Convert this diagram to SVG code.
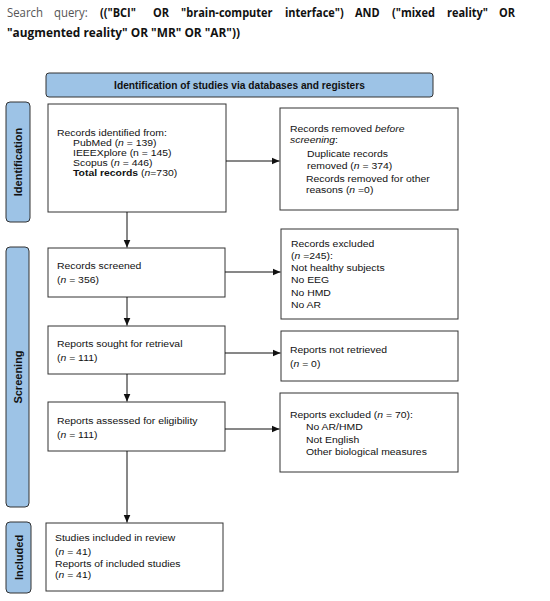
<svg xmlns="http://www.w3.org/2000/svg" width="550" height="601" viewBox="0 0 550 601">
<defs>
<style>
.box{fill:#fff;stroke:#333;stroke-width:1}
.side{fill:#9dc3e6;stroke:#333;stroke-width:1}
.t{font-family:"Liberation Sans",Arial,sans-serif;font-size:9.3px;fill:#111}
.hb{font-family:"Liberation Sans",Arial,sans-serif;font-size:10.2px;font-weight:bold;fill:#111}
.sl{font-family:"Liberation Sans",Arial,sans-serif;font-size:11px;font-weight:bold;fill:#111}
.q{font-family:"Open Sans","Noto Sans",sans-serif;font-size:11px;font-weight:bold;fill:#111}
.qn{font-family:"Open Sans","Noto Sans",sans-serif;font-size:11.4px;fill:#555}
.conn line{stroke:#111;stroke-width:1}
</style>
<marker id="ah" viewBox="0 0 8 8" refX="8" refY="4" markerWidth="8" markerHeight="8" markerUnits="userSpaceOnUse" orient="auto">
<path d="M0,0.5 L8,4 L0,7.5 z" fill="#111"/>
</marker>
</defs>
<rect width="550" height="601" fill="#fff"/>

<g id="query">
<g transform="matrix(1,0,0,1.15,0,-2.55)">
<text class="qn" y="17"><tspan x="7">Search</tspan><tspan x="54">query:</tspan></text>
<text class="q" y="17"><tspan x="100">(("BCI"</tspan><tspan x="153">OR</tspan><tspan x="181">"brain-computer</tspan><tspan x="285">interface")</tspan><tspan x="355">AND</tspan><tspan x="392">("mixed</tspan><tspan x="447">reality"</tspan></text>
<text class="q" x="515" y="17" text-anchor="end">OR</text>
</g>
<g transform="matrix(1,0,0,1.15,0,-5.55)">
<text class="q" x="7" y="37" textLength="233" lengthAdjust="spacingAndGlyphs">"augmented reality" OR "MR" OR "AR"))</text>
</g>
</g>

<g id="header">
<rect x="46" y="73" width="387" height="24" rx="3" class="side"/>
<text class="hb" x="239.5" y="88.5" text-anchor="middle">Identification of studies via databases and registers</text>
</g>

<g id="label-identification">
<rect x="6" y="102" width="24" height="120" rx="4" class="side"/>
<text class="sl" transform="translate(22,162) rotate(-90)" text-anchor="middle">Identification</text>
</g>
<g id="label-screening">
<rect x="6" y="247" width="23" height="260" rx="4" class="side"/>
<text class="sl" transform="translate(21.5,377) rotate(-90)" text-anchor="middle">Screening</text>
</g>
<g id="label-included">
<rect x="6" y="522" width="25" height="71" rx="4" class="side"/>
<text class="sl" transform="translate(22.5,557.5) rotate(-90)" text-anchor="middle">Included</text>
</g>

<g id="records-identified">
<rect x="48" y="104" width="178" height="108" class="box"/>
<text class="t" transform="matrix(1.12,0,0,1,-6.84,0)"><tspan x="57" y="136">Records identified from:</tspan><tspan x="71.3" y="146.5">PubMed (<tspan font-style="italic">n</tspan> = 139)</tspan><tspan x="71.3" y="156.5">IEEEXplore (n = 145)</tspan><tspan x="71.3" y="166">Scopus (<tspan font-style="italic">n</tspan> = 446)</tspan><tspan x="71.3" y="176"><tspan font-weight="bold">Total records</tspan> (<tspan font-style="italic">n</tspan>=730)</tspan></text>
</g>

<g id="records-removed">
<rect x="280" y="108" width="178" height="102" class="box"/>
<text class="t" transform="matrix(1.12,0,0,1,-34.8,0)"><tspan x="290" y="132">Records removed <tspan font-style="italic">before</tspan></tspan><tspan x="290" y="143" font-style="italic">screening</tspan><tspan>:</tspan><tspan x="305.2" y="157">Duplicate records</tspan><tspan x="305.2" y="169">removed (<tspan font-style="italic">n</tspan> = 374)</tspan><tspan x="304.3" y="182">Records removed for other</tspan><tspan x="304.3" y="193">reasons (<tspan font-style="italic">n</tspan> =0)</tspan></text>
</g>

<g id="records-screened">
<rect x="48" y="248" width="177" height="49" class="box"/>
<text class="t" transform="matrix(1.12,0,0,1,-6.84,0)"><tspan x="57" y="269">Records screened</tspan><tspan x="57" y="283">(<tspan font-style="italic">n</tspan> = 356)</tspan></text>
</g>

<g id="records-excluded">
<rect x="281" y="229" width="177" height="90" class="box"/>
<text class="t" transform="matrix(1.12,0,0,1,-34.92,0)"><tspan x="291" y="247">Records excluded</tspan><tspan x="291" y="259">(<tspan font-style="italic">n</tspan> =245):</tspan><tspan x="291" y="271">Not healthy subjects</tspan><tspan x="291" y="283">No EEG</tspan><tspan x="291" y="296">No HMD</tspan><tspan x="291" y="308">No AR</tspan></text>
</g>

<g id="reports-sought">
<rect x="48" y="326" width="177" height="48" class="box"/>
<text class="t" transform="matrix(1.12,0,0,1,-6.84,0)"><tspan x="57" y="347">Reports sought for retrieval</tspan><tspan x="57" y="361">(<tspan font-style="italic">n</tspan> = 111)</tspan></text>
</g>

<g id="reports-not-retrieved">
<rect x="281" y="331" width="177" height="50" class="box"/>
<text class="t" transform="matrix(1.12,0,0,1,-34.8,0)"><tspan x="290" y="353">Reports not retrieved</tspan><tspan x="290" y="367">(<tspan font-style="italic">n</tspan> = 0)</tspan></text>
</g>

<g id="reports-assessed">
<rect x="48" y="402" width="177" height="49" class="box"/>
<text class="t" transform="matrix(1.12,0,0,1,-6.84,0)"><tspan x="57" y="424">Reports assessed for eligibility</tspan><tspan x="57" y="438">(<tspan font-style="italic">n</tspan> = 111)</tspan></text>
</g>

<g id="reports-excluded">
<rect x="280" y="393" width="178" height="79" class="box"/>
<text class="t" transform="matrix(1.12,0,0,1,-34.8,0)"><tspan x="290" y="418">Reports excluded (<tspan font-style="italic">n</tspan> = 70):</tspan><tspan x="304.3" y="430">No AR/HMD</tspan><tspan x="304.3" y="443">Not English</tspan><tspan x="304.3" y="455">Other biological measures</tspan></text>
</g>

<g id="studies-included">
<rect x="46" y="523" width="177" height="68" class="box"/>
<text class="t" transform="matrix(1.12,0,0,1,-6.6,0)"><tspan x="55" y="541">Studies included in review</tspan><tspan x="55" y="555">(<tspan font-style="italic">n</tspan> = 41)</tspan><tspan x="55" y="567">Reports of included studies</tspan><tspan x="55" y="578">(<tspan font-style="italic">n</tspan> = 41)</tspan></text>
</g>

<g id="connectors" class="conn">
<line x1="226" y1="161" x2="279.5" y2="161" marker-end="url(#ah)"/>
<line x1="225" y1="272" x2="280.5" y2="272" marker-end="url(#ah)"/>
<line x1="225" y1="353" x2="280.5" y2="353" marker-end="url(#ah)"/>
<line x1="225" y1="429" x2="279.5" y2="429" marker-end="url(#ah)"/>
<line x1="127" y1="212" x2="127" y2="247.5" marker-end="url(#ah)"/>
<line x1="127" y1="297" x2="127" y2="325.5" marker-end="url(#ah)"/>
<line x1="127" y1="374" x2="127" y2="401.5" marker-end="url(#ah)"/>
<line x1="127" y1="451" x2="127" y2="522.5" marker-end="url(#ah)"/>
</g>
</svg>
